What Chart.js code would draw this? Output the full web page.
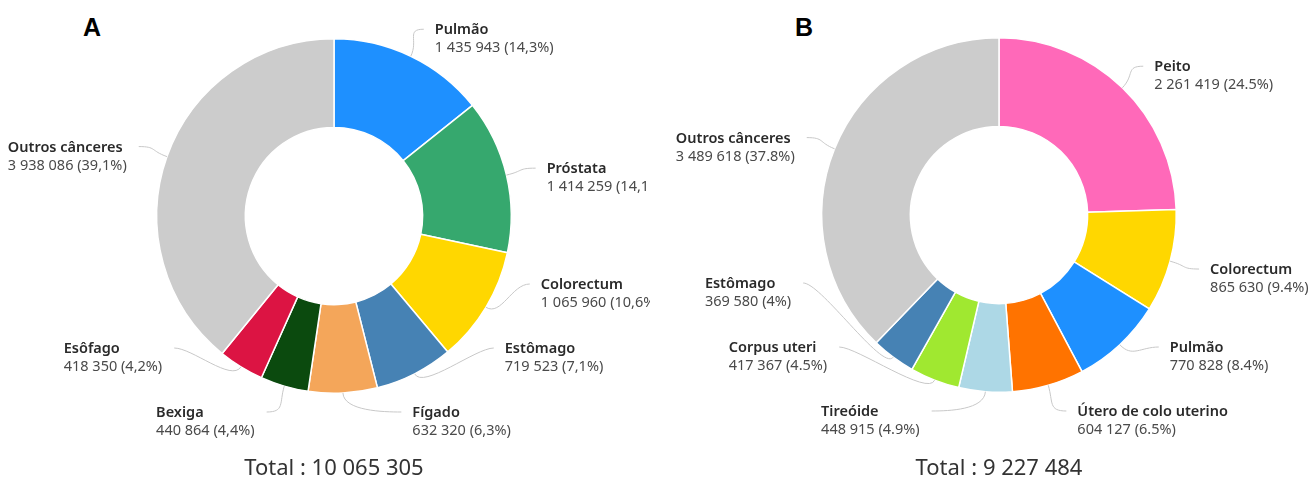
<!DOCTYPE html>
<html>
<head>
<meta charset="utf-8">
<script src="https://cdn.jsdelivr.net/npm/chart.js@4.4.1/dist/chart.umd.min.js"></script>
<style>
  body { margin: 0; background: #fff; width: 1311px; height: 479px; position: relative; overflow: hidden; font-family: "Noto Sans", sans-serif; }
  .box { position: absolute; top: 0; height: 479px; }
  .letter { position: absolute; top: 13px; font: bold 25px "Liberation Sans", Arial, sans-serif; color: #000; }
  .total { position: absolute; top: 451px; font-size: 22px; color: #333; transform: translateX(-50%); white-space: nowrap; }
</style>
</head>
<body>
<div class="letter" style="left:83px">A</div>
<div class="letter" style="left:795px">B</div>
<div class="box" style="left:0;width:650px"><canvas id="chartA"></canvas></div>
<div class="box" style="left:655px;width:656px"><canvas id="chartB"></canvas></div>
<div class="total" id="totalA" style="left:334px"></div>
<div class="total" id="totalB" style="left:999px"></div>
<script>
// dados - painel A
const labelsA = ['Pulmão', 'Próstata', 'Colorectum', 'Estômago', 'Fígado', 'Bexiga', 'Esôfago', 'Outros cânceres'];
const valuesA = [1435943, 1414259, 1065960, 719523, 632320, 440864, 418350, 3938086];
const colorsA = ['#1E90FF', '#36A86E', '#FFD700', '#4682B4', '#F4A65A', '#0B4A0E', '#DC1443', '#CCCCCC'];

// dados - painel B
const labelsB = ['Peito', 'Colorectum', 'Pulmão', 'Útero de colo uterino', 'Tireóide', 'Corpus uteri', 'Estômago', 'Outros cânceres'];
const valuesB = [2261419, 865630, 770828, 604127, 448915, 417367, 369580, 3489618];
const colorsB = ['#FF69B9', '#FFD700', '#1E90FF', '#FF7300', '#ADD8E6', '#A0E830', '#4682B4', '#CCCCCC'];

const fmt = n => String(n).replace(/\B(?=(\d{3})+(?!\d))/g, ' ');
const sum = arr => arr.reduce((a, b) => a + b, 0);

// rotulos externos com linhas de chamada
const outerLabels = {
    id: 'outerLabels',
    afterDraw(chart, args, opts) {
        const ctx = chart.ctx;
        const arcs = chart.getDatasetMeta(0).data;
        const values = chart.data.datasets[0].data;
        const total = sum(values);
        const cx = arcs[0].x, cy = arcs[0].y, r = arcs[0].outerRadius;
        const R = r + opts.gap;

        const items = arcs.map((arc, i) => {
            const mid = (arc.startAngle + arc.endAngle) / 2;
            return { i, mid, y: cy + R * Math.sin(mid), right: Math.cos(mid) >= 0 };
        });
        // empurra os rotulos de baixo para cima para nao sobrepor
        [true, false].forEach(side => {
            const list = items.filter(it => it.right === side).sort((a, b) => b.y - a.y);
            let limit = cy + opts.maxDy;
            list.forEach(it => { it.y = Math.min(it.y, limit); limit = it.y - opts.spacing; });
        });

        ctx.save();
        items.forEach(it => {
            const dy = it.y - cy;
            const dx = Math.sqrt(Math.max(R * R - dy * dy, 0));
            const ex = it.right ? cx + dx : cx - dx;
            const ey = it.y;
            const sx = cx + r * Math.cos(it.mid), sy = cy + r * Math.sin(it.mid);
            const kx = cx + (r + 18) * Math.cos(it.mid), ky = cy + (r + 18) * Math.sin(it.mid);

            ctx.strokeStyle = '#c8c8c8';
            ctx.lineWidth = 1;
            ctx.beginPath();
            ctx.moveTo(sx, sy);
            ctx.bezierCurveTo(kx, ky, it.right ? ex - 18 : ex + 18, ey, ex, ey);
            ctx.stroke();

            const v = values[it.i];
            let p = (v / total * 100).toFixed(1).replace(/\.0$/, '');
            p = p.replace('.', opts.decimal);
            const name = chart.data.labels[it.i];
            const line2 = fmt(v) + ' (' + p + '%)';

            ctx.font = '600 14.5px "Noto Sans"';
            const w1 = ctx.measureText(name).width;
            ctx.font = '14.5px "Noto Sans"';
            const w2 = ctx.measureText(line2).width;
            const tx = it.right ? ex + 11 : ex - 12 - Math.max(w1, w2);

            ctx.textAlign = 'left';
            ctx.textBaseline = 'middle';
            ctx.fillStyle = '#2a2a2a';
            ctx.font = '600 14.5px "Noto Sans"';
            ctx.fillText(name, tx, ey + 1);
            ctx.fillStyle = '#4a4a4a';
            ctx.font = '14.5px "Noto Sans"';
            ctx.fillText(line2, tx, ey + 19);
        });
        ctx.restore();
    }
};

const makeChart = (tag, labels, values, colors, padding, decimal) => {
    const ctx = document.getElementById(tag).getContext('2d');
    return new Chart(ctx, {
        type: 'doughnut',
        data: {
            labels: labels,
            datasets: [{
                data: values,
                backgroundColor: colors,
                borderColor: '#ffffff',
                borderWidth: 1.5
            }]
        },
        options: {
            responsive: true,
            maintainAspectRatio: false,
            animation: false,
            cutout: '50%',
            layout: { padding: padding },
            plugins: {
                legend: { display: false },
                tooltip: { enabled: false },
                outerLabels: { gap: 30, maxDy: 196, spacing: 64, decimal: decimal }
            }
        },
        plugins: [outerLabels]
    });
};

makeChart('chartA', labelsA, valuesA, colorsA, { left: 156, right: 138, top: 38, bottom: 85 }, ',');
makeChart('chartB', labelsB, valuesB, colorsB, { left: 166, right: 134, top: 37, bottom: 86 }, '.');

document.getElementById('totalA').textContent = 'Total : ' + fmt(sum(valuesA));
document.getElementById('totalB').textContent = 'Total : ' + fmt(sum(valuesB));
</script>
</body>
</html>
